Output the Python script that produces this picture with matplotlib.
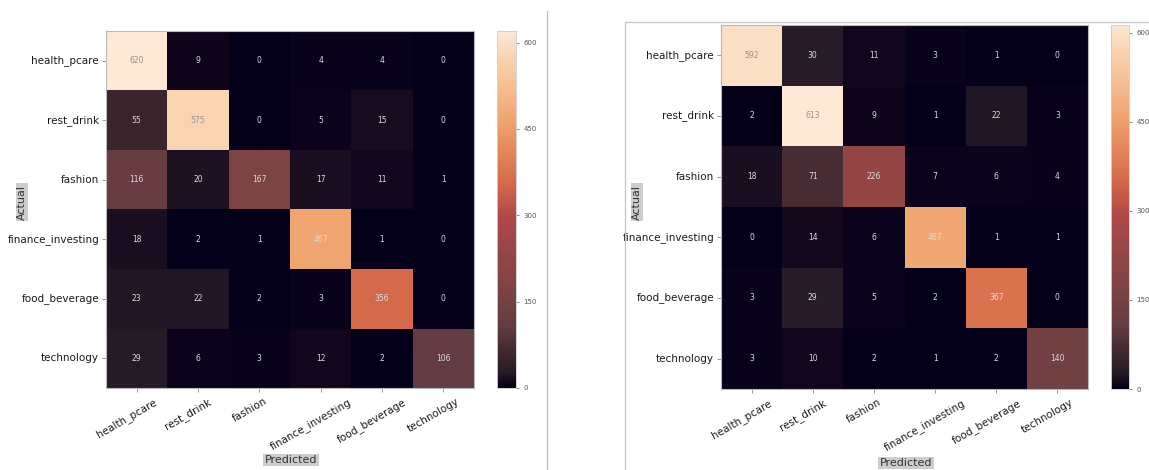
import matplotlib
matplotlib.use("Agg")
import matplotlib.pyplot as plt
import matplotlib.transforms as mtrans
from matplotlib.colors import LinearSegmentedColormap
import numpy as np
import seaborn as sns

labels = ['health_pcare', 'rest_drink', 'fashion',
          'finance_investing', 'food_beverage', 'technology']

cm_left = np.array([[620, 9, 0, 4, 4, 0],
                    [55, 575, 0, 5, 15, 0],
                    [116, 20, 167, 17, 11, 1],
                    [18, 2, 1, 467, 1, 0],
                    [23, 22, 2, 3, 356, 0],
                    [29, 6, 3, 12, 2, 106]])

cm_right = np.array([[592, 30, 11, 3, 1, 0],
                     [2, 613, 9, 1, 22, 3],
                     [18, 71, 226, 7, 6, 4],
                     [0, 14, 6, 467, 1, 1],
                     [3, 29, 5, 2, 367, 0],
                     [3, 10, 2, 1, 2, 140]])

cbar_ticks = [0, 150, 300, 450, 600]

# colours (dark -> cream)
cmap_stops = [(0.00, '#05001a'), (0.02, '#14081c'), (0.04, '#241a26'),
              (0.10, '#40282f'), (0.17, '#633c42'), (0.27, '#7c4342'),
              (0.40, '#9c4646'), (0.48, '#b04848'), (0.574, '#d46a4a'),
              (0.66, '#e4865a'), (0.753, '#f0a470'), (0.85, '#f5c095'),
              (0.93, '#f8d4b2'), (1.00, '#fde9d6')]
shot_cmap = LinearSegmentedColormap.from_list('shot', cmap_stops)

W, H = 1149, 470
fig = plt.figure(figsize=(W / 100, H / 100), dpi=100)


def px(x0, y0, x1, y1):
    # pixel box (top-left origin) -> figure fraction rect
    return [x0 / W, 1 - y1 / H, (x1 - x0) / W, (y1 - y0) / H]


def draw_cm(cm, ax_box, cb_box, actual_xy, pred_xy):
    ax = fig.add_axes(px(*ax_box))
    cax = fig.add_axes(px(*cb_box))
    sns.heatmap(cm, annot=True, fmt='d', cmap=shot_cmap, ax=ax, cbar_ax=cax,
                vmin=0, vmax=cm.max(), annot_kws={'fontsize': 5.5},
                xticklabels=labels, yticklabels=labels)
    for t in ax.texts:
        v = int(t.get_text())
        t.set_color('#9a9088' if v > 0.9 * cm.max() else '#dcdcdc')
    for s in ax.spines.values():
        s.set_visible(True)
        s.set_color('#b8b8b8')
        s.set_linewidth(0.8)
    ax.tick_params(axis='both', length=3, width=0.6, color='#888888',
                   labelsize=7.5, pad=2, labelcolor='#1a1a1a')
    ax.tick_params(axis='x', pad=3)
    plt.setp(ax.get_yticklabels(), rotation=0)
    off = mtrans.ScaledTranslation(-10 / 100, 0, fig.dpi_scale_trans)
    for lbl in ax.get_xticklabels():
        lbl.set_rotation(30)
        lbl.set_ha('center')
        lbl.set_transform(lbl.get_transform() + off)

    cax.set_yticks(cbar_ticks)
    cax.tick_params(labelsize=5, colors='#555555', length=2, width=0.5)
    for s in cax.spines.values():
        s.set_visible(True)
        s.set_color('#d0d0d0')
        s.set_linewidth(0.5)

    box = dict(boxstyle='square,pad=0.12', facecolor='#cdcdcd', edgecolor='none')
    fig.text(actual_xy[0] / W, 1 - actual_xy[1] / H, 'Actual', rotation=90,
             ha='center', va='center', fontsize=8, color='#333333', bbox=box)
    fig.text(pred_xy[0] / W, 1 - pred_xy[1] / H, 'Predicted',
             ha='center', va='center', fontsize=8, color='#333333', bbox=box)


draw_cm(cm_left, (106, 31, 474, 388), (497, 31, 516, 388), (22, 202), (291, 460))
draw_cm(cm_right, (721, 25, 1088, 389), (1111, 25, 1129, 389), (637, 202), (906, 463))

# screenshot frame lines
fig.add_artist(plt.Line2D([547 / W, 547 / W], [0, 1 - 11 / H],
                          color='#bdbdbd', lw=0.9, transform=fig.transFigure))
fig.add_artist(plt.Line2D([625 / W, 625 / W, 1], [0, 1 - 22 / H, 1 - 22 / H],
                          color='#c4c4c4', lw=0.9, transform=fig.transFigure))

fig.savefig('out.png', dpi=100)
